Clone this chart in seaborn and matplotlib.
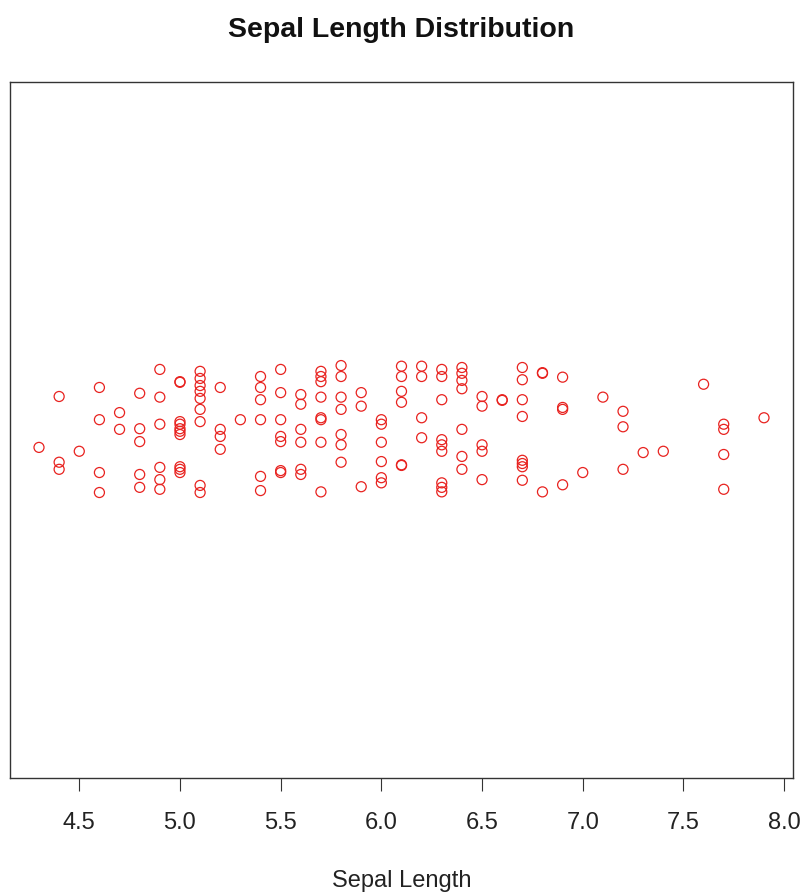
import matplotlib
matplotlib.use("Agg")
import matplotlib.pyplot as plt
import seaborn as sns
import pandas as pd

# Sepal length values (iris) grouped by value, with the jittered vertical positions
sepal_values = [4.3, 4.4, 4.5, 4.6, 4.7, 4.8, 4.9, 5.0, 5.1, 5.2, 5.3, 5.4, 5.5, 5.6,
                5.7, 5.8, 5.9, 6.0, 6.1, 6.2, 6.3, 6.4, 6.5, 6.6, 6.7, 6.8, 6.9, 7.0,
                7.1, 7.2, 7.3, 7.4, 7.6, 7.7, 7.9]
jitter_y = [
    [0.973],
    [1.052, 0.950, 0.939],
    [0.967],
    [1.066, 1.016, 0.934, 0.903],
    [1.027, 1.001],
    [1.057, 1.002, 0.982, 0.931, 0.911],
    [1.094, 1.051, 1.009, 0.942, 0.923, 0.908],
    [1.075, 1.074, 1.013, 1.009, 1.002, 0.998, 0.993, 0.943, 0.939, 0.934],
    [1.091, 1.080, 1.069, 1.060, 1.049, 1.032, 1.013, 0.914, 0.903],
    [1.066, 1.001, 0.990, 0.970],
    [1.016],
    [1.083, 1.066, 1.047, 1.016, 0.928, 0.906],
    [1.094, 1.058, 1.016, 0.990, 0.982, 0.937, 0.934],
    [1.055, 1.040, 1.001, 0.981, 0.939, 0.931],
    [1.091, 1.083, 1.075, 1.051, 1.019, 1.016, 0.981, 0.904],
    [1.100, 1.083, 1.051, 1.032, 0.993, 0.977, 0.950],
    [1.058, 1.037, 0.912],
    [1.016, 1.009, 0.981, 0.951, 0.926, 0.918],
    [1.099, 1.083, 1.060, 1.043, 0.946, 0.945],
    [1.099, 1.083, 1.019, 0.988],
    [1.094, 1.083, 1.047, 0.985, 0.977, 0.967, 0.918, 0.911, 0.904],
    [1.097, 1.088, 1.077, 1.064, 1.001, 0.959, 0.939],
    [1.052, 1.037, 0.977, 0.967, 0.923],
    [1.047, 1.046],
    [1.097, 1.078, 1.047, 1.021, 0.953, 0.948, 0.943, 0.922],
    [1.089, 1.088, 0.904],
    [1.082, 1.035, 1.032, 0.915],
    [0.934],
    [1.051],
    [1.029, 1.005, 0.939],
    [0.965],
    [0.967],
    [1.071],
    [1.009, 1.001, 0.962, 0.908],
    [1.019],
]
tick_values = [4.5, 5.0, 5.5, 6.0, 6.5, 7.0, 7.5, 8.0]
tick_labels = ["4.5", "5.0", "5.5", "6.0", "6.5", "7.0", "7.5", "8.0"]

rows = []
for v, ys in zip(sepal_values, jitter_y):
    for yv in ys:
        rows.append({"Sepal Length": v, "y": yv})
df = pd.DataFrame(rows)

sns.set_style("white")
plt.rcParams["font.family"] = ["Liberation Sans", "DejaVu Sans"]

fig = plt.figure(figsize=(8.05, 8.95), dpi=100)
ax = fig.add_axes([10 / 805, 1 - 779 / 895, 783 / 805, 696 / 895])

sns.scatterplot(data=df, x="Sepal Length", y="y", ax=ax, marker="o", s=52,
                fc="none", ec="#e8221f", linewidth=0.9, legend=False)

ax.set_xlim(4.156, 8.044)
ax.set_ylim(0.46, 1.54)
ax.set_yticks([])
ax.set_ylabel("")
ax.set_xticks(tick_values)
ax.set_xticklabels(tick_labels)
ax.tick_params(axis="x", direction="out", length=9.5, width=0.8, color="#333333",
               pad=14, labelsize=17, labelcolor="#222222", bottom=True)
for sp in ax.spines.values():
    sp.set_visible(True)
    sp.set_color("#333333")
    sp.set_linewidth(1.0)

ax.set_xlabel("Sepal Length", fontsize=17, color="#222222", labelpad=26)
ax.set_title("Sepal Length Distribution", fontsize=20.5, fontweight="bold",
             color="#111111", pad=33)

fig.savefig("out.png", dpi=100, facecolor="white")
